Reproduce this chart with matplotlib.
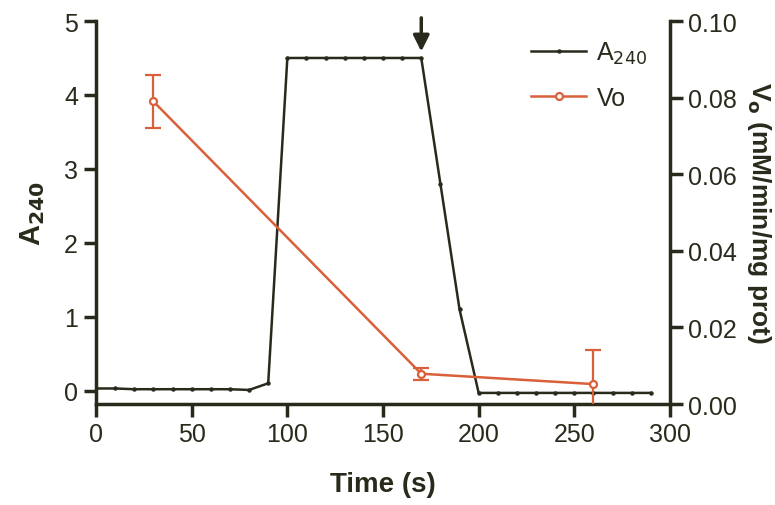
import matplotlib
matplotlib.use("Agg")
import matplotlib.pyplot as plt
from matplotlib.lines import Line2D

plt.rcParams['font.family'] = ['Liberation Sans', 'DejaVu Sans']

# A240 trace (s, absorbance)
time_a = [0, 10, 20, 30, 40, 50, 60, 70, 80, 90, 100, 110, 120, 130, 140, 150,
          160, 170, 180, 190, 200, 210, 220, 230, 240, 250, 260, 270, 280, 290]
a240 = [0.03, 0.03, 0.02, 0.02, 0.02, 0.02, 0.02, 0.02, 0.01, 0.1, 4.5, 4.5, 4.5, 4.5, 4.5, 4.5,
        4.5, 4.5, 2.8, 1.1, -0.03, -0.03, -0.03, -0.03, -0.03, -0.03, -0.03, -0.03, -0.03, -0.03]

# initial velocity
time_v = [30, 170, 260]
vo = [0.079, 0.0079, 0.0052]
vo_err = [0.0069, 0.0016, 0.009]

dark = '#2a2a1c'
red = '#d9603b'

fig = plt.figure(figsize=(7.75, 5.06), dpi=100)
ax = fig.add_axes([0.1239, 0.1996, 0.7406, 0.7569])
ax2 = ax.twinx()

ax.plot(time_a, a240, color=dark, lw=1.8, marker='o', ms=2.2)
ax2.errorbar(time_v, vo, yerr=vo_err, color=red, lw=1.8, marker='o', ms=5,
             mfc='white', mec=red, mew=1.6, capsize=6, elinewidth=1.6,
             capthick=1.6)

ax.set_xlim(0, 300)
ax.set_ylim(-0.18, 5)
ax2.set_ylim(0, 0.1)
ax.set_xticks([0, 50, 100, 150, 200, 250, 300])
ax.set_yticks([0, 1, 2, 3, 4, 5])
ax2.set_yticks([0, 0.02, 0.04, 0.06, 0.08, 0.10])
ax2.set_yticklabels(['0.00', '0.02', '0.04', '0.06', '0.08', '0.10'])

for a in (ax, ax2):
    a.spines['top'].set_visible(False)
    for s in ('left', 'right', 'bottom'):
        a.spines[s].set_linewidth(2.5)
        a.spines[s].set_color(dark)
    a.tick_params(direction='out', length=9, width=2.5, colors=dark,
                  labelsize=18, pad=4)
ax.spines['right'].set_visible(False)
ax2.spines['left'].set_visible(False)
ax2.spines['bottom'].set_visible(False)
ax2.set_zorder(ax.get_zorder() + 1)
ax2.patch.set_visible(False)

ax.set_xlabel('Time (s)', fontsize=20, fontweight='bold', color=dark, labelpad=18)
ax.set_ylabel('A$_{\\mathbf{240}}$', fontsize=21, fontweight='bold', color=dark, labelpad=12)
ax2.set_ylabel('V$_{\\mathbf{o}}$ (mM/min/mg prot)', fontsize=19, fontweight='bold',
               color=dark, rotation=270, labelpad=26)

# arrow marking the addition
ax.annotate('', xy=(170, 4.55), xytext=(170, 5.08),
            arrowprops=dict(arrowstyle='-|>', color=dark, lw=2.5, mutation_scale=24),
            annotation_clip=False)

h1 = Line2D([], [], color=dark, lw=1.8, marker='o', ms=2.2)
h2 = Line2D([], [], color=red, lw=1.8, marker='o', ms=5, mfc='white', mec=red, mew=1.6)
ax.legend([h1, h2], ['A$_{240}$', 'Vo'], loc='upper right',
          bbox_to_anchor=(1.0, 1.01), frameon=False, fontsize=18,
          handlelength=2.2, handletextpad=0.4, labelspacing=0.8, labelcolor=dark)

fig.savefig('out.png', dpi=100)
